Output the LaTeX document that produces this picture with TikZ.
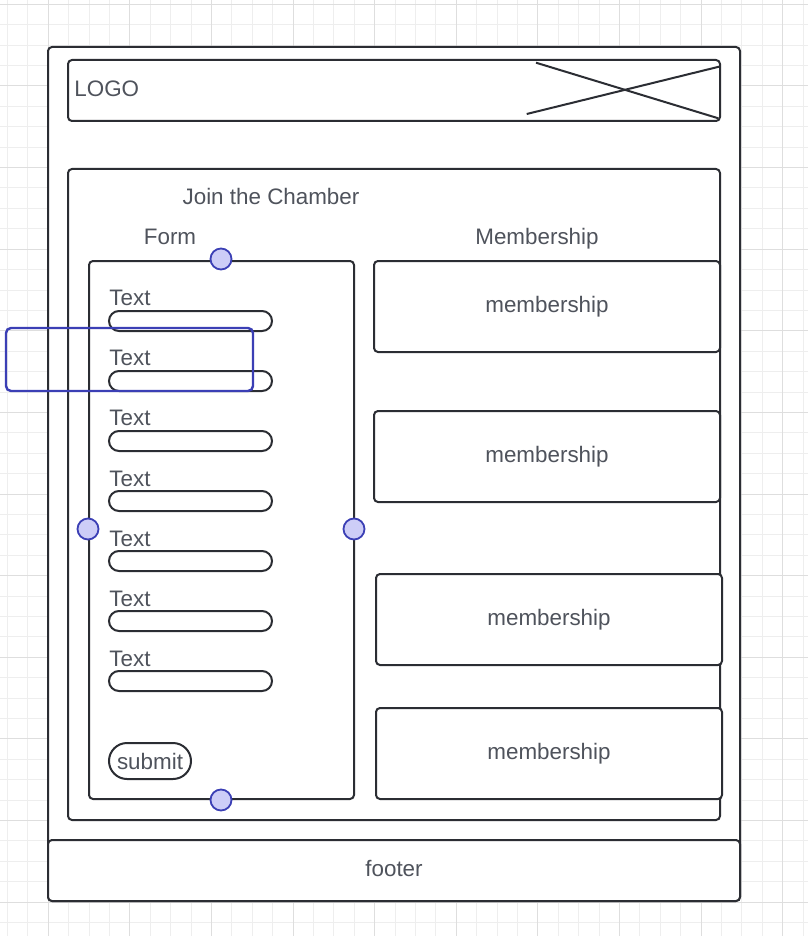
\documentclass[tikz,border=0pt]{standalone}
\usepackage{fontspec}
\setmainfont{Liberation Sans}
\definecolor{linegray}{HTML}{2B2D33}
\definecolor{textgray}{HTML}{4F535C}
\definecolor{gridminor}{HTML}{EEEEEE}
\definecolor{gridmajor}{HTML}{DEDEDE}
\definecolor{selblue}{HTML}{3B3FB5}
\definecolor{handlefill}{HTML}{CDCDF7}
\tikzset{
  box/.style={draw=linegray, line width=1pt, rounded corners=2pt, fill=white},
  field/.style={draw=linegray, line width=1pt, rounded corners=5pt},
  lbl/.style={text=textgray, inner sep=0pt, font=\fontsize{11.2}{13}\selectfont},
  sel/.style={draw=selblue, line width=1.2pt, rounded corners=2.5pt},
  handle/.style={circle, draw=selblue, fill=handlefill, line width=0.9pt, minimum size=10.5pt, inner sep=0pt},
}
\begin{document}
\begin{tikzpicture}[x=0.5pt,y=-0.5pt]
\useasboundingbox (0,0) rectangle (808,936);
%grid
\foreach \k in {-2,...,37}{
    \draw[gridminor, line width=0.5pt] ({48.3+20.4*\k},0) -- ++(0,936);
}
\foreach \k in {0,...,45}{
    \draw[gridminor, line width=0.5pt] (0,{4.4+20.4*\k}) -- ++(808,0);
}
\foreach \k in {0,...,9}{
    \draw[gridmajor, line width=0.5pt] ({48.3+81.6*\k},0) -- ++(0,936);
}
\foreach \k in {0,...,11}{
    \draw[gridmajor, line width=0.5pt] (0,{4.4+81.6*\k}) -- ++(808,0);
}

%page
\draw[box] (48,47) rectangle (740,901);

%header
\draw[box] (68,60) rectangle (720,121);
\draw[linegray, line width=1pt] (536,62.7) -- (718.3,118.3);
\draw[linegray, line width=1pt] (526.7,114) -- (719,66.7);
\node[lbl, anchor=west] (logo) at (74,89) {LOGO};

%main
\draw[box] (68,169) rectangle (720,820);
\node[lbl] (title) at (271,196) {Join the Chamber};
\node[lbl] (formlbl) at (170,237) {Form};
\node[lbl] (memlbl) at (537,238.5) {Membership};

%form
\draw[box] (89,261) rectangle (354,799);
\foreach \i in {0,...,6}{
    \node[lbl, anchor=west] (txt\i) at (109,{298+60.2*\i}) {Text};
    \draw[field] (109,{311+60*\i}) rectangle (272,{331+60*\i});
}
\node[lbl, draw=linegray, line width=1pt, rounded corners=9pt, minimum width=41pt, minimum height=18pt] (submit) at (150,761) {submit};

%membership
\foreach \n/\cx/\cy in {1/547/306.5, 2/547/456.5, 3/549/619.5, 4/549/753.5}{
    \node[box, lbl, minimum width=173pt, minimum height=45.5pt] (mem\n) at (\cx,\cy) {membership};
}

%footer
\draw[box] (48,840) rectangle (740,901);
\node[lbl] (footer) at (394,868) {footer};

%selection
\draw[sel] (6,328) rectangle (253,391);
\node[handle] (htop) at (221,259) {};
\node[handle] (hleft) at (88,529) {};
\node[handle] (hright) at (354,529) {};
\node[handle] (hbottom) at (221,800) {};
\end{tikzpicture}
\end{document}
